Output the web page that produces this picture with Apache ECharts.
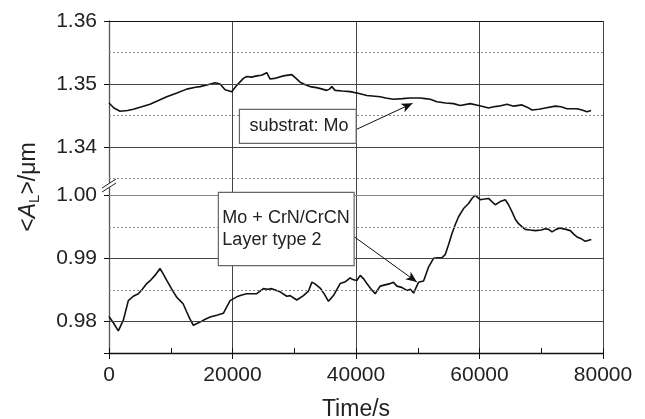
<!DOCTYPE html>
<html>
<head>
<meta charset="utf-8">
<script src="https://cdn.jsdelivr.net/npm/echarts@6/dist/echarts.min.js"></script>
<style>html,body{margin:0;padding:0;background:#fff;}#c{width:645px;height:419px;}</style>
</head>
<body>
<div id="c"></div>
<script>
// ---- data ----
var upperT = [0,800,1780,3000,3940,5300,6640,8000,9350,11000,12590,14000,14750,16000,17180,17990,18800,19880,20690,21770,22310,23100,23930,24700,25550,26090,26800,28250,29600,30300,30950,31800,32570,33800,35270,35700,36080,36620,37800,39050,40500,41760,43910,44800,46070,47500,48780,50400,51200,52020,53100,54500,55800,56880,58500,59850,60700,61470,62300,63080,64450,65520,66880,67800,68500,69600,70650,72270,73200,74170,75790,76600,77410,78060];
var upperV = [1.3470,1.3462,1.3457,1.3458,1.3460,1.3464,1.3468,1.3474,1.3480,1.3486,1.3492,1.3495,1.3496,1.3499,1.3502,1.3500,1.3491,1.3488,1.3498,1.3509,1.3512,1.3511,1.3513,1.3514,1.3518,1.3508,1.3509,1.3513,1.3515,1.3509,1.3503,1.3499,1.3496,1.3494,1.3490,1.3492,1.3496,1.3490,1.3489,1.3488,1.3485,1.3482,1.3480,1.3478,1.3476,1.3477,1.3478,1.3478,1.3477,1.3476,1.3472,1.3470,1.3469,1.3466,1.3469,1.3466,1.3464,1.3462,1.3464,1.3465,1.3468,1.3465,1.3467,1.3463,1.3459,1.3460,1.3462,1.3465,1.3464,1.3461,1.3461,1.3459,1.3456,1.3458];
var lowerT = [0,700,1510,2320,3130,3940,4750,5400,6110,6800,7450,8260,8800,9350,10420,11000,11510,12000,12590,13100,13660,14750,15500,16370,17450,18520,19000,19610,20690,21500,22310,23930,25000,25700,26360,27710,28790,29330,30410,31490,32300,32840,33300,34190,34900,35540,36350,37430,38300,39050,39600,40140,40680,41200,41760,42400,43100,43910,44700,45540,46070,46620,47400,48240,48800,49320,50120,50940,51740,52560,53200,53910,54450,55000,55530,56100,56610,57420,58230,58780,59300,60120,60800,61470,62000,62550,63360,64170,64700,65250,65800,66330,66900,67410,68200,69030,70000,70650,71200,71740,72400,73090,74000,74710,75300,75790,76500,77140,78100];
var lowerV = [0.9808,0.9798,0.9785,0.9802,0.9833,0.9840,0.9844,0.9851,0.9860,0.9866,0.9873,0.9884,0.9875,0.9865,0.9847,0.9838,0.9833,0.9828,0.9815,0.9804,0.9794,0.9799,0.9803,0.9807,0.9810,0.9813,0.9822,0.9833,0.9839,0.9842,0.9844,0.9844,0.9852,0.9851,0.9852,0.9847,0.9840,0.9841,0.9834,0.9841,0.9848,0.9862,0.9860,0.9853,0.9843,0.9832,0.9841,0.9860,0.9863,0.9869,0.9866,0.9865,0.9873,0.9868,0.9860,0.9852,0.9844,0.9856,0.9858,0.9860,0.9862,0.9856,0.9854,0.9849,0.9851,0.9845,0.9862,0.9864,0.9886,0.9900,0.9901,0.9901,0.9906,0.9922,0.9939,0.9954,0.9966,0.9979,0.9987,0.9995,1.0000,0.9993,0.9994,0.9995,0.9990,0.9985,0.9990,0.9993,0.9985,0.9974,0.9962,0.9955,0.9950,0.9946,0.9945,0.9944,0.9945,0.9947,0.9946,0.9942,0.9946,0.9948,0.9946,0.9944,0.9938,0.9934,0.9931,0.9927,0.9930];

var xTicks = [0,20000,40000,60000,80000];
var upperTickLabels = [1.36,1.35,1.34];
var lowerTickLabels = [1.00,0.99,0.98];
var upperDotted = [1.355,1.345,1.335];
var lowerDotted = [0.995,0.985];
var upperMax = 1.36, lowerMin = 0.975;
var OFFSET = 0.33237; // axis break: lower values shifted up onto the shared axis

var annot1 = {text:'substrat: Mo', box:[21120,1.3460,40030,1.34061], from:[39860,1.34272], to:[49150,1.34695], upper:true};
var annot2 = {text:'Mo + CrN/CrCN\nLayer type 2', box:[17710,1.00047,39700,0.98884], from:[39700,0.99344], to:[49860,0.98625], upper:false};

// ---- helpers ----
function vUp(v){return v;}
function vLo(v){return +(v+OFFSET).toFixed(6);}
function zip(t,v,f){return t.map(function(x,i){return [x,f(v[i])];});}
var FONT = "'Liberation Sans', Arial, Helvetica, sans-serif";

var solidVals = upperTickLabels.map(vUp).concat(lowerTickLabels.map(vLo));
var dotVals = upperDotted.map(vUp).concat(lowerDotted.map(vLo));
var axisMin = vLo(lowerMin);

function mapA(a, p){var f = a.upper?vUp:vLo; return [p[0], f(p[1])];}

var chart = echarts.init(document.getElementById('c'), null, {renderer:'canvas'});
var option = {
  backgroundColor:'#fff',
  animation:false,
  grid:{left:109, right:42, top:21, bottom:66, containLabel:false, outerBoundsMode:'none'},
  xAxis:[{
    type:'value', min:0, max:80000, interval:20000, position:'bottom',
    axisLine:{show:true, lineStyle:{color:'#111', width:1.3}},
    axisTick:{show:true, inside:false, length:6, lineStyle:{color:'#111'}},
    axisLabel:{fontSize:21, color:'#222', fontFamily:FONT, margin:12, formatter:function(v){return String(v);}},
    splitLine:{show:true, lineStyle:{color:'#444', width:1}},
    name:'Time/s', nameLocation:'middle', nameGap:45,
    nameTextStyle:{fontSize:23, color:'#222', fontFamily:FONT}
  },{
    type:'value', min:0, max:80000, interval:10000, position:'bottom',
    axisLine:{show:false}, axisTick:{show:true, inside:true, length:5, lineStyle:{color:'#111'}},
    axisLabel:{show:false}, splitLine:{show:false}
  }],
  yAxis:[{
    type:'value', min:axisMin, max:upperMax,
    axisLine:{show:true, lineStyle:{color:'#555', width:1.3}},
    axisTick:{show:true, inside:false, length:5, customValues:solidVals.concat([axisMin]), lineStyle:{color:'#111'}},
    axisLabel:{fontSize:21, color:'#222', fontFamily:FONT, margin:12, customValues:solidVals,
      formatter:function(v){return v>1.336 ? v.toFixed(2) : (v-OFFSET).toFixed(2);}},
    splitLine:{show:false},
    name:'<{i|A}{s|L}>/μm', nameLocation:'middle', nameGap:67, nameRotate:90,
    nameTextStyle:{fontSize:23, color:'#222', fontFamily:FONT,
      rich:{i:{fontStyle:'italic', fontSize:23, fontFamily:FONT, color:'#222'},
            s:{fontSize:15, fontFamily:FONT, color:'#222', padding:[12,0,0,0]}}}
  }],
  series:[{
    type:'line', data:[], z:1, silent:true,
    markLine:{silent:true, precision:6, symbol:['none','none'], label:{show:false}, animation:false,
      data: solidVals.map(function(v){return {yAxis:v, lineStyle:{type:'solid', color: v===upperMax?'#111':(v===vLo(1.00)?'#888':'#444'), width:1}};})
        .concat(dotVals.map(function(v){return {yAxis:v, lineStyle:{type:[2,2], color:'#888', width:1}};}))
    }
  },{
    type:'line', data:zip(upperT,upperV,vUp), showSymbol:false, z:3,
    lineStyle:{color:'#111', width:1.6}, silent:true
  },{
    type:'line', data:zip(lowerT,lowerV,vLo), showSymbol:false, z:3,
    lineStyle:{color:'#111', width:1.6}, silent:true,
    markLine:{silent:true, precision:6, animation:false, label:{show:false}, symbolSize:[7,11],
      lineStyle:{color:'#111', width:1, type:'solid'},
      data:[
        [{coord:mapA(annot1,annot1.from), symbol:'none'},{coord:mapA(annot1,annot1.to), symbol:'arrow'}],
        [{coord:mapA(annot2,annot2.from), symbol:'none'},{coord:mapA(annot2,annot2.to), symbol:'arrow'}]
      ]}
  }]
};
chart.setOption(option);

function px(p){return chart.convertToPixel({xAxisIndex:0, yAxisIndex:0}, p);}
function boxGraphic(a, pad){
  var f = a.upper?vUp:vLo;
  var p1 = px([a.box[0], f(a.box[1])]), p2 = px([a.box[2], f(a.box[3])]);
  return [{
    type:'rect', z:50, shape:{x:p1[0], y:p1[1], width:p2[0]-p1[0], height:p2[1]-p1[1]},
    style:{fill:'#fff', stroke:'#666', lineWidth:1.2}
  },{
    type:'text', z:51, x:p1[0]+pad, y:(p1[1]+p2[1])/2,
    style:{text:a.text, font:'18px '+FONT, fill:'#222', verticalAlign:'middle', align:'left', lineHeight:22}
  }];
}
var brk = px([0, 1.33368]);
var g = boxGraphic(annot1, 10).concat(boxGraphic(annot2, 4));
g.push({type:'polygon', z:60, shape:{points:[[brk[0]-7,brk[1]+5],[brk[0]+7,brk[1]-4],[brk[0]+7,brk[1]-8],[brk[0]-7,brk[1]+1]]}, style:{fill:'#fff'}});
g.push({type:'line', z:61, shape:{x1:brk[0]-7,y1:brk[1]+5,x2:brk[0]+7,y2:brk[1]-4}, style:{stroke:'#222', lineWidth:1}});
g.push({type:'line', z:61, shape:{x1:brk[0]-7,y1:brk[1]+1,x2:brk[0]+7,y2:brk[1]-8}, style:{stroke:'#222', lineWidth:1}});
chart.setOption({graphic:g});
</script>
</body>
</html>
